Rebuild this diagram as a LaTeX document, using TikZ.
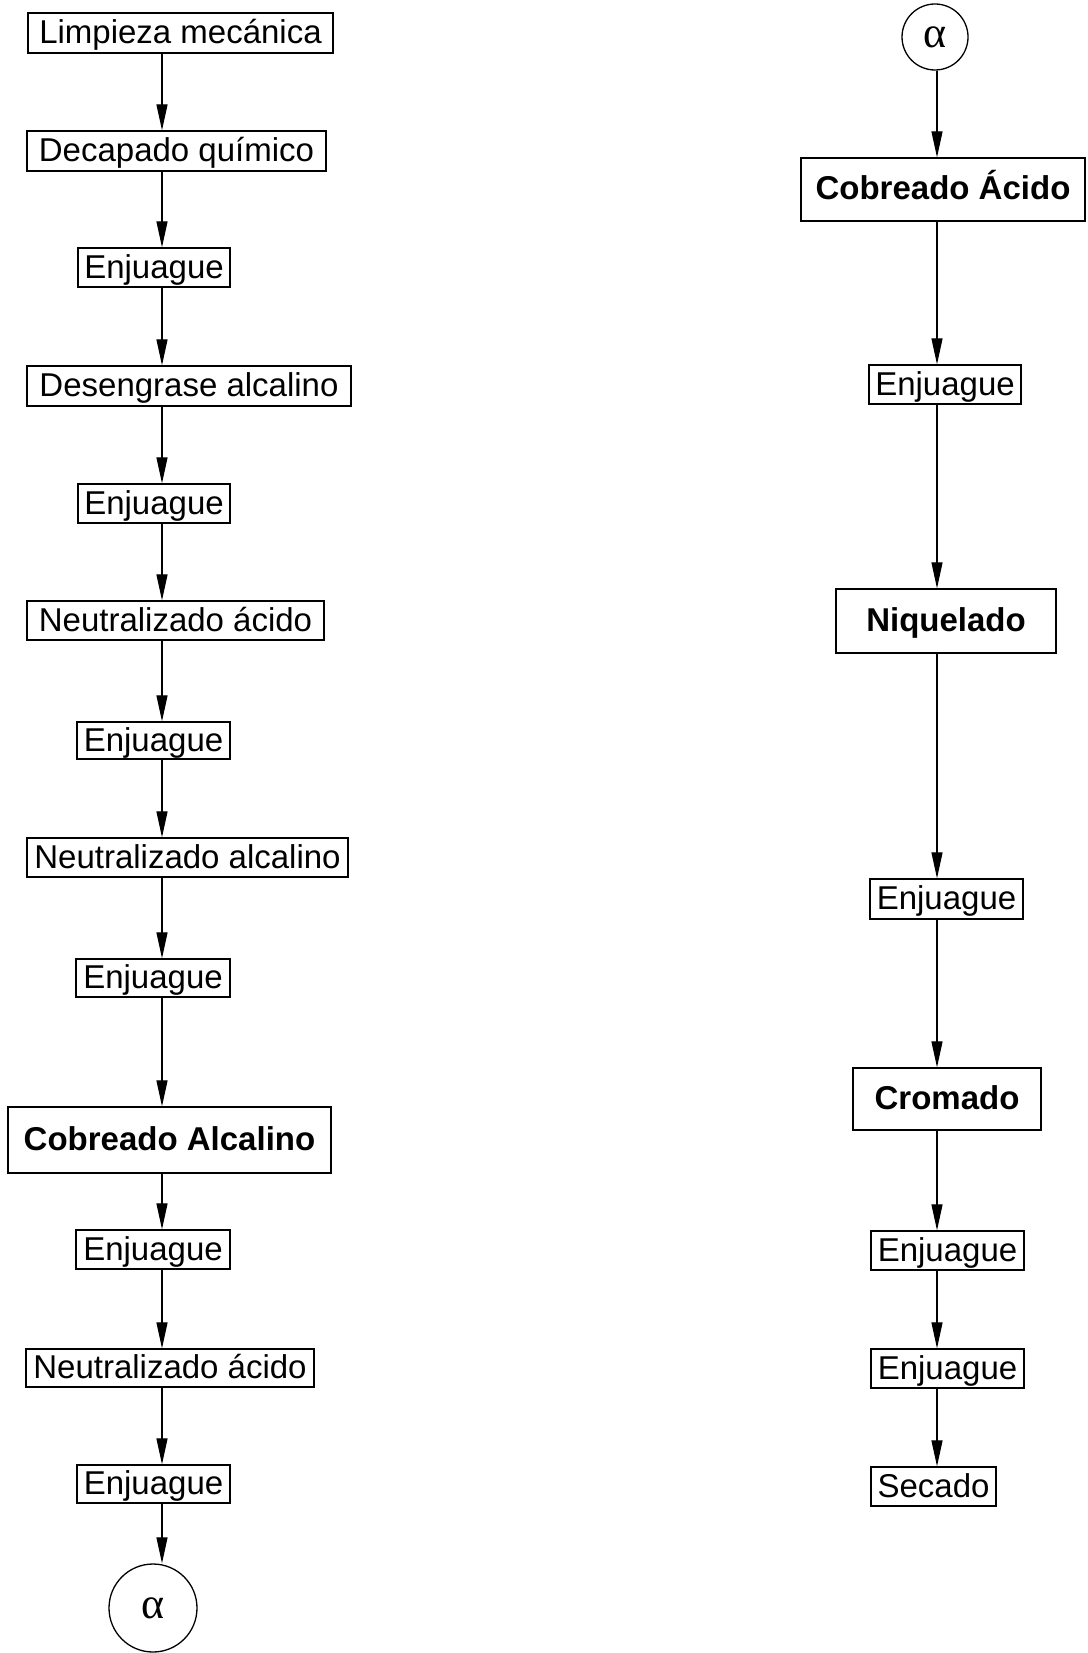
\documentclass[tikz,border=0pt]{standalone}
\usepackage{fontspec}
\setmainfont{Liberation Sans}
\newfontfamily\alphafont{Liberation Serif}
\usetikzlibrary{arrows.meta}
\begin{document}
\begin{tikzpicture}[x=1pt,y=-1pt,
  pbox/.style={draw, line width=1.3pt, inner sep=0pt, font=\fontsize{33}{40}\selectfont, text height=24pt, text depth=3pt},
  bbox/.style={pbox, font=\fontsize{33}{40}\selectfont\bfseries},
  conn/.style={draw, circle, line width=1.3pt, inner sep=0pt, font=\fontsize{44}{50}\selectfont\alphafont},
  arr/.style={line width=1.2pt, -{Triangle[length=26pt,width=11pt]}}]
\useasboundingbox (0,0) rectangle (1087,1653);
\coordinate (colL) at (162,0);
\coordinate (colR) at (937,0);
% left column
\node[pbox, minimum width=305pt, minimum height=40pt] (l1) at (180.5,33) {Limpieza mecánica};
\node[pbox, minimum width=299pt, minimum height=40pt] (l2) at (176.5,151) {Decapado químico};
\node[pbox, minimum width=152pt, minimum height=39pt] (l3) at (154,267.5) {Enjuague};
\node[pbox, minimum width=324pt, minimum height=40pt] (l4) at (189,386) {Desengrase alcalino};
\node[pbox, minimum width=152pt, minimum height=39pt] (l5) at (154,503.5) {Enjuague};
\node[pbox, minimum width=297pt, minimum height=39pt] (l6) at (175.5,620.5) {Neutralizado ácido};
\node[pbox, minimum width=153pt, minimum height=37pt] (l7) at (153.5,740.5) {Enjuague};
\node[pbox, minimum width=321pt, minimum height=39pt] (l8) at (187.5,857.5) {Neutralizado alcalino};
\node[pbox, minimum width=154pt, minimum height=38pt] (l9) at (153,978) {Enjuague};
\node[bbox, minimum width=323pt, minimum height=66pt] (l10) at (169.5,1140) {Cobreado Alcalino};
\node[pbox, minimum width=154pt, minimum height=39pt] (l11) at (153,1249.5) {Enjuague};
\node[pbox, minimum width=288pt, minimum height=38pt] (l12) at (170,1368) {Neutralizado ácido};
\node[pbox, minimum width=153pt, minimum height=38pt] (l13) at (153.5,1484) {Enjuague};
\node[conn, minimum size=88pt] (l14) at (153,1608) {α};
% right column
\node[conn, minimum size=66pt] (r0) at (935,37) {α};
\node[bbox, minimum width=284pt, minimum height=63pt] (r1) at (943,189.5) {Cobreado Ácido};
\node[pbox, minimum width=152pt, minimum height=39pt] (r2) at (945,384.5) {Enjuague};
\node[bbox, minimum width=220pt, minimum height=64pt] (r3) at (946,621) {Niquelado};
\node[pbox, minimum width=153pt, minimum height=40pt] (r4) at (946.5,899) {Enjuague};
\node[bbox, minimum width=188pt, minimum height=62pt] (r5) at (947,1099) {Cromado};
\node[pbox, minimum width=153pt, minimum height=39pt] (r6) at (947.5,1250.5) {Enjuague};
\node[pbox, minimum width=153pt, minimum height=39pt] (r7) at (947.5,1368.5) {Enjuague};
\node[pbox, minimum width=125pt, minimum height=39pt] (r8) at (933.5,1486.5) {Secado};
% connectors left
\draw[arr] (l1.south -| colL) -- (l2.north -| colL);
\draw[arr] (l2.south -| colL) -- (l3.north -| colL);
\draw[arr] (l3.south -| colL) -- (l4.north -| colL);
\draw[arr] (l4.south -| colL) -- (l5.north -| colL);
\draw[arr] (l5.south -| colL) -- (l6.north -| colL);
\draw[arr] (l6.south -| colL) -- (l7.north -| colL);
\draw[arr] (l7.south -| colL) -- (l8.north -| colL);
\draw[arr] (l8.south -| colL) -- (l9.north -| colL);
\draw[arr] (l9.south -| colL) -- (l10.north -| colL);
\draw[arr] (l10.south -| colL) -- (l11.north -| colL);
\draw[arr] (l11.south -| colL) -- (l12.north -| colL);
\draw[arr] (l12.south -| colL) -- (l13.north -| colL);
\draw[arr] (l13.south -| colL) -- (l14.north -| colL);
% connectors right
\draw[arr] (r0.south -| colR) -- (r1.north -| colR);
\draw[arr] (r1.south -| colR) -- (r2.north -| colR);
\draw[arr] (r2.south -| colR) -- (r3.north -| colR);
\draw[arr] (r3.south -| colR) -- (r4.north -| colR);
\draw[arr] (r4.south -| colR) -- (r5.north -| colR);
\draw[arr] (r5.south -| colR) -- (r6.north -| colR);
\draw[arr] (r6.south -| colR) -- (r7.north -| colR);
\draw[arr] (r7.south -| colR) -- (r8.north -| colR);
\end{tikzpicture}
\end{document}
